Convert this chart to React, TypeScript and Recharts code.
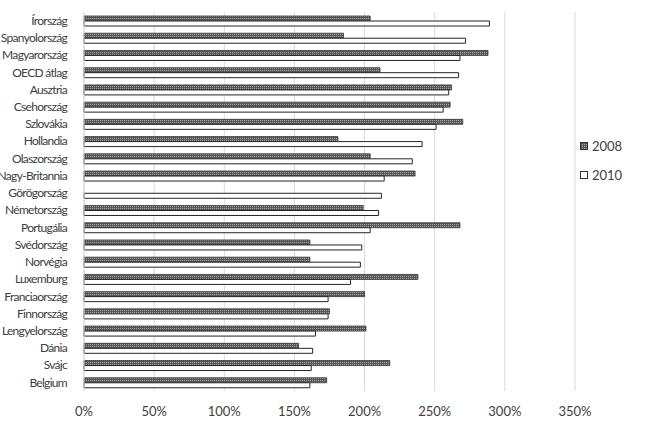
import React from 'react';
import { BarChart, Bar, XAxis, YAxis, CartesianGrid } from 'recharts';

const countries = [
  'Írország', 'Spanyolország', 'Magyarország', 'OECD átlag', 'Ausztria', 'Csehország',
  'Szlovákia', 'Hollandia', 'Olaszország', 'Nagy-Britannia', 'Görögország', 'Németország',
  'Portugália', 'Svédország', 'Norvégia', 'Luxemburg', 'Franciaország', 'Finnország',
  'Lengyelország', 'Dánia', 'Svájc', 'Belgium',
];

const values2008 = [
  204, 185, 288, 211, 262, 261, 270, 181, 204, 236, 0, 199,
  268, 161, 161, 238, 200, 175, 201, 153, 218, 173,
];

const values2010 = [
  289, 272, 268, 267, 260, 256, 251, 241, 234, 214, 212, 210,
  204, 198, 197, 190, 174, 174, 165, 163, 162, 161,
];

const xTicks = [0, 50, 100, 150, 200, 250, 300, 350];

const data = countries.map((name, i) => ({
  name,
  y2008: values2008[i] || null,
  y2010: values2010[i],
}));

const FONT = "Lato, 'Open Sans', sans-serif";

// category labels, squeezed a bit to get closer to the narrow original font
const CountryTick = (props: any) => {
  const { x, y, payload } = props;
  return (
    <text
      x={x - 9}
      y={y}
      dy="0.355em"
      textAnchor="end"
      fill="#404040"
      fontSize={12}
      fontFamily={FONT}
      letterSpacing={-0.7}
    >
      {payload.value}
    </text>
  );
};

const App: React.FC = () => {
  return (
    <div style={{ position: 'absolute', left: 0, top: 0, width: 649, height: 424, background: '#fff', fontFamily: FONT }}>
      <BarChart
        width={649}
        height={424}
        data={data}
        layout="vertical"
        margin={{ top: 12, right: 74, bottom: 0, left: 0 }}
        barGap={0}
      >
        <defs>
          <pattern id="hatch" width="2" height="2" patternUnits="userSpaceOnUse">
            <rect width="2" height="2" fill="#575757" />
            <rect width="1" height="1" fill="#a8a8a8" />
          </pattern>
        </defs>
        <CartesianGrid horizontal={false} stroke="#d9d9d9" />
        <XAxis
          type="number"
          domain={[0, 350]}
          ticks={xTicks}
          tickFormatter={(v) => `${v}%`}
          axisLine={false}
          tickLine={false}
          tickMargin={10}
          height={33}
          tick={{ fill: '#404040', fontSize: 13, fontFamily: FONT }}
        />
        <YAxis
          type="category"
          dataKey="name"
          width={84}
          axisLine={{ stroke: '#d9d9d9' }}
          tickLine={false}
          interval={0}
          tick={<CountryTick />}
        />
        <Bar dataKey="y2008" barSize={5} fill="url(#hatch)" stroke="#333" strokeWidth={0.8} isAnimationActive={false} />
        <Bar dataKey="y2010" barSize={5} fill="#fff" stroke="#262626" strokeWidth={1} isAnimationActive={false} />
      </BarChart>
      <div style={{ position: 'absolute', left: 580, top: 138, fontSize: 13, color: '#404040', lineHeight: '16px' }}>
        <div style={{ display: 'flex', alignItems: 'center' }}>
          <svg width={8} height={8} style={{ marginRight: 4 }}>
            <defs>
              <pattern id="hatchLegend" width="2" height="2" patternUnits="userSpaceOnUse">
                <rect width="2" height="2" fill="#575757" />
                <rect width="1" height="1" fill="#a8a8a8" />
              </pattern>
            </defs>
            <rect x={0.5} y={0.5} width={7} height={7} fill="url(#hatchLegend)" stroke="#333" />
          </svg>
          <span>2008</span>
        </div>
        <div style={{ display: 'flex', alignItems: 'center', marginTop: 13 }}>
          <svg width={8} height={8} style={{ marginRight: 4 }}>
            <rect x={0.5} y={0.5} width={7} height={7} fill="#fff" stroke="#333" />
          </svg>
          <span>2010</span>
        </div>
      </div>
    </div>
  );
};

export default App;
